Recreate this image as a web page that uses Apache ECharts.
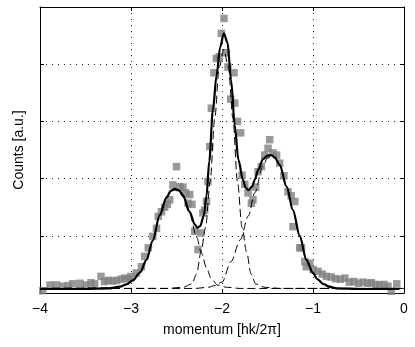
<!DOCTYPE html>
<html>
<head>
<meta charset="utf-8">
<script src="https://cdn.jsdelivr.net/npm/echarts@6/dist/echarts.min.js"></script>
<style>
  html, body { margin: 0; padding: 0; background: #fff; }
  #chart { width: 415px; height: 347px; }
</style>
</head>
<body>
<div id="chart"></div>
<script>
// ===== 测量数据 (灰色方块) =====
var dataX = [-3.97, -3.89, -3.82, -3.75, -3.69, -3.64, -3.56, -3.49, -3.44, -3.40, -3.33, -3.29, -3.25, -3.20, -3.16, -3.11, -3.07, -3.03, -3.00,
  -2.94, -2.885, -2.85, -2.81, -2.76, -2.72, -2.70, -2.665, -2.63, -2.60, -2.575, -2.54, -2.50, -2.465, -2.43, -2.40, -2.374, -2.355, -2.33,
  -2.30, -2.264, -2.23, -2.21, -2.19, -2.17, -2.154, -2.135, -2.117, -2.088, -2.062, -2.03, -2.007, -1.978, -1.955, -1.934, -1.904, -1.868,
  -1.86, -1.83, -1.795, -1.78, -1.75, -1.714, -1.677, -1.66, -1.63, -1.604, -1.567, -1.53, -1.494, -1.476, -1.44, -1.40, -1.366, -1.32,
  -1.275, -1.24, -1.22, -1.20, -1.146, -1.127, -1.09, -1.073, -1.036, -1.00, -0.945, -0.90, -0.853, -0.80, -0.75, -0.70, -0.65, -0.60,
  -0.55, -0.50, -0.45, -0.40, -0.36, -0.31, -0.267, -0.22, -0.176, -0.14, -0.08];
var dataY = [0.04, 0.14, 0.14, 0.12, 0.13, 0.16, 0.17, 0.14, 0.18, 0.16, 0.29, 0.20, 0.22, 0.21, 0.22, 0.24, 0.26, 0.25, 0.29,
  0.35, 0.46, 0.64, 0.79, 0.99, 1.13, 1.34, 1.42, 1.50, 1.55, 1.63, 1.89, 2.21, 1.86, 1.85, 1.75, 1.57, 1.72, 1.55,
  1.08, 0.76, 1.05, 1.40, 1.45, 1.60, 1.95, 2.56, 3.23, 3.85, 4.10, 4.13, 4.54, 4.80, 4.20, 3.95, 3.39, 3.85,
  3.32, 3.00, 2.80, 2.06, 1.90, 1.75, 1.57, 1.63, 1.85, 2.12, 2.21, 2.41, 2.53, 2.68, 2.45, 2.41, 2.27, 2.05,
  1.77, 1.70, 1.16, 1.60, 0.79, 0.79, 0.55, 0.46, 0.52, 0.41, 0.38, 0.33, 0.29, 0.28, 0.25, 0.24, 0.26, 0.19,
  0.20, 0.17, 0.19, 0.17, 0.18, 0.15, 0.14, 0.15, 0.12, 0.03, 0.16];

// ===== 拟合曲线 (粗实线) =====
var fitX = [-4.0, -3.5, -3.25, -3.12, -3.05, -2.98, -2.90, -2.83, -2.76, -2.685, -2.61, -2.56, -2.52, -2.47, -2.43, -2.355, -2.30, -2.27,
  -2.24, -2.20, -2.17, -2.14, -2.10, -2.06, -2.02, -1.98, -1.94, -1.90, -1.86, -1.82, -1.77, -1.74, -1.71, -1.67, -1.64, -1.60, -1.55,
  -1.50, -1.46, -1.42, -1.366, -1.29, -1.22, -1.146, -1.073, -1.00, -0.95, -0.89, -0.82, -0.74, -0.50, -0.05];
var fitY = [0.07, 0.07, 0.08, 0.11, 0.15, 0.22, 0.36, 0.58, 0.92, 1.36, 1.67, 1.79, 1.82, 1.79, 1.71, 1.42, 1.20, 1.14,
  1.17, 1.35, 1.70, 2.30, 3.20, 3.80, 4.30, 4.54, 4.38, 3.72, 2.93, 2.33, 1.98, 1.84, 1.80, 1.86, 1.98, 2.16, 2.34,
  2.40, 2.41, 2.37, 2.24, 1.86, 1.45, 1.00, 0.58, 0.35, 0.24, 0.16, 0.11, 0.08, 0.07, 0.07];

// ===== 三个分量 (虚线) =====
var leftX = [-4.0, -3.2, -3.12, -3.05, -2.98, -2.90, -2.83, -2.76, -2.685, -2.61, -2.56, -2.52, -2.47, -2.43, -2.355, -2.28, -2.226,
  -2.17, -2.12, -2.05, -1.95, -1.80, 0];
var leftY = [0.08, 0.09, 0.11, 0.15, 0.22, 0.36, 0.58, 0.92, 1.36, 1.67, 1.78, 1.80, 1.77, 1.68, 1.38, 0.98, 0.70,
  0.44, 0.26, 0.14, 0.10, 0.08, 0.08];

var midX = [-4.0, -2.60, -2.43, -2.33, -2.28, -2.23, -2.18, -2.13, -2.08, -2.03, -1.98, -1.93, -1.88, -1.83, -1.78, -1.73, -1.68,
  -1.63, -1.53, -1.36, 0];
var midY = [0.08, 0.08, 0.10, 0.16, 0.33, 0.72, 1.15, 1.95, 3.05, 3.95, 4.26, 3.95, 3.05, 1.95, 1.15, 0.72, 0.33,
  0.16, 0.10, 0.08, 0.08];

var rightX = [-4.0, -2.30, -2.15, -2.08, -2.00, -1.90, -1.80, -1.71, -1.64, -1.55, -1.50, -1.46, -1.42, -1.366, -1.29, -1.22, -1.146,
  -1.073, -1.00, -0.95, -0.89, -0.82, -0.74, 0];
var rightY = [0.08, 0.08, 0.10, 0.13, 0.19, 0.55, 0.93, 1.35, 1.75, 2.22, 2.36, 2.39, 2.36, 2.23, 1.85, 1.44, 0.99,
  0.57, 0.34, 0.23, 0.15, 0.10, 0.08, 0.08];

// 坐标轴刻度
var xTicks = { min: -4, max: 0, step: 1 };
var yTicks = { min: 0, max: 5, step: 1 };

function pairs(xs, ys) {
  return xs.map(function (x, i) { return [x, ys[i]]; });
}

(function () {
  var myChart = echarts.init(document.getElementById('chart'));
  var font = 'Liberation Sans, Arial, sans-serif';
  var dotted = { color: '#222', width: 1, type: [1, 5] };
  var dashedLine = function (xs, ys) {
    return {
      type: 'line',
      data: pairs(xs, ys),
      showSymbol: false,
      smooth: 0.3,
      smoothMonotone: 'x',
      z: 3,
      lineStyle: { color: '#000', width: 1, type: [8, 4] }
    };
  };
  var option = {
    animation: false,
    backgroundColor: '#fff',
    textStyle: { fontFamily: font },
    grid: { left: 40, right: 11, top: 7, bottom: 54 },
    xAxis: [
      {
        type: 'value',
        position: 'bottom',
        min: xTicks.min, max: xTicks.max, interval: xTicks.step,
        name: 'momentum [hk/2\u03c0]',
        nameLocation: 'middle',
        nameGap: 30,
        nameTextStyle: { color: '#000', fontSize: 14, fontFamily: font },
        axisLine: { show: true, lineStyle: { color: '#000', width: 1 } },
        axisTick: { show: true, inside: true, length: 4, lineStyle: { color: '#000' } },
        axisLabel: {
          color: '#000', fontSize: 14, margin: 9, fontFamily: font,
          formatter: function (v) { return String(v).replace('-', '\u2212'); }
        },
        splitLine: { show: true, lineStyle: dotted }
      },
      {
        type: 'value',
        position: 'top',
        min: xTicks.min, max: xTicks.max, interval: xTicks.step,
        axisLine: { show: true, onZero: false, lineStyle: { color: '#000', width: 1 } },
        axisTick: { show: true, inside: true, length: 4, lineStyle: { color: '#000' } },
        axisLabel: { show: false },
        splitLine: { show: false }
      }
    ],
    yAxis: [
      {
        type: 'value',
        position: 'left',
        min: yTicks.min, max: yTicks.max, interval: yTicks.step,
        name: 'Counts [a.u.]',
        nameLocation: 'middle',
        nameGap: 14,
        nameTextStyle: { color: '#000', fontSize: 14, fontFamily: font },
        axisLine: { show: true, onZero: false, lineStyle: { color: '#000', width: 1 } },
        axisTick: { show: true, inside: true, length: 4, lineStyle: { color: '#000' } },
        axisLabel: { show: false },
        splitLine: { show: true, lineStyle: dotted }
      },
      {
        type: 'value',
        position: 'right',
        min: yTicks.min, max: yTicks.max, interval: yTicks.step,
        axisLine: { show: true, onZero: false, lineStyle: { color: '#000', width: 1 } },
        axisTick: { show: true, inside: true, length: 4, lineStyle: { color: '#000' } },
        axisLabel: { show: false },
        splitLine: { show: false }
      }
    ],
    series: [
      {
        // 测量点
        type: 'scatter',
        data: pairs(dataX, dataY),
        symbol: 'rect',
        symbolSize: 7.5,
        z: 1,
        itemStyle: { color: '#808080' }
      },
      dashedLine(leftX, leftY),
      dashedLine(midX, midY),
      dashedLine(rightX, rightY),
      {
        // 拟合曲线
        type: 'line',
        data: pairs(fitX, fitY),
        showSymbol: false,
        smooth: 0.3,
        smoothMonotone: 'x',
        z: 4,
        lineStyle: { color: '#000', width: 2.2 }
      }
    ]
  };

  myChart.setOption(option);
  window.addEventListener('resize', function () {
    myChart.resize();
  });
})();
</script>
</body>
</html>
